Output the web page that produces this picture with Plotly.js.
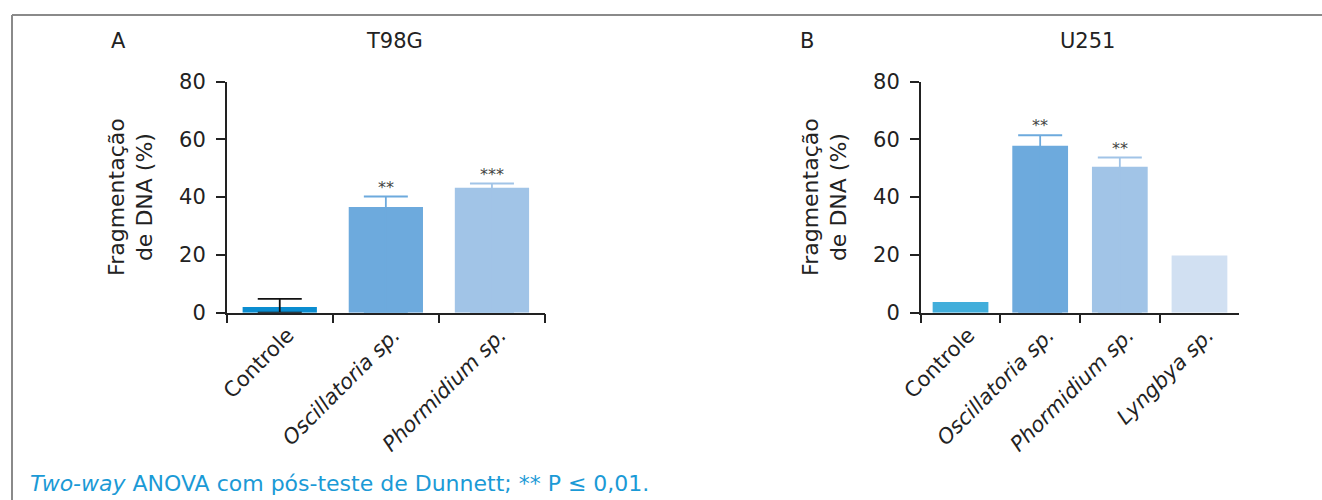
<!DOCTYPE html>
<html>
<head>
<meta charset="utf-8">
<script src="https://cdn.plot.ly/plotly-3.0.1.min.js"></script>
<style>html,body{margin:0;padding:0;background:#fff;}#chart{width:1322px;height:500px;}</style>
</head>
<body>
<div id="chart"></div>
<script>
// ---- data ----
const catsA = ["Controle", "<i>Oscillatoria sp.</i>", "<i>Phormidium sp.</i>"];
const meanA = [2.0, 36.6, 43.2];
const semA  = [2.8, 3.6, 1.5];
const sigA  = ["", "**", "***"];

const catsB = ["Controle", "<i>Oscillatoria sp.</i>", "<i>Phormidium sp.</i>", "<i>Lyngbya sp.</i>"];
const meanB = [3.7, 57.8, 50.5, 19.8];
const semB  = [0, 3.6, 3.2, 0];
const sigB  = ["", "**", "**", ""];

const yTicks = [0, 20, 40, 60, 80];
const titleA = "T98G";
const titleB = "U251";
const yTitle = "Fragmentação<br>de DNA (%)";
const footnote = "<i>Two-way</i> ANOVA com pós-teste de Dunnett; ** P ≤ 0,01.";

// ---- styles ----
const FONT = "DejaVu Sans";
const TXT = "#222222";
const colorsA = ["#0b8dd0", "#6daadd", "#a1c4e7"];
const errColorsA = ["#111111", "#6daadd", "#a1c4e7"];
const colorsB = ["#42aedb", "#6daadd", "#a1c4e7", "#d1e0f2"];
const errColorsB = ["#42aedb", "#6daadd", "#a1c4e7", "#d1e0f2"];
const W = 1322, H = 500;
const px = v => v / W;
const py = v => 1 - v / H;

function makeTraces(cats, means, sems, colors, errColors, xa, ya) {
  return cats.map((c, i) => ({
    type: "bar",
    x: [c],
    y: [means[i]],
    xaxis: xa, yaxis: ya,
    width: 0.7,
    marker: {color: colors[i], line: {width: 0}},
    error_y: {
      type: "data", symmetric: false,
      array: [sems[i]], arrayminus: [means[i]],
      visible: sems[i] > 0,
      color: errColors[i], thickness: 1.8, width: 22
    },
    hoverinfo: "x+y"
  }));
}

const data = [
  ...makeTraces(catsA, meanA, semA, colorsA, errColorsA, "x", "y"),
  ...makeTraces(catsB, meanB, semB, colorsB, errColorsB, "x2", "y2")
];

function starNotes(cats, means, sems, sigs, xr, yr) {
  const out = [];
  cats.forEach((c, i) => {
    if (sigs[i]) out.push({
      x: c, y: means[i] + sems[i], xref: xr, yref: yr,
      text: sigs[i], showarrow: false, yanchor: "bottom", yshift: -2,
      font: {family: FONT, size: 16, color: "#444"}
    });
  });
  return out;
}

const xBase = {
  type: "category", tickson: "boundaries", ticks: "outside", ticklen: 9,
  tickwidth: 1.5, tickcolor: TXT, showline: true, linecolor: TXT, linewidth: 1.5,
  tickangle: -45, ticklabelshift: 8, tickfont: {family: FONT, size: 21, color: TXT},
  showgrid: false, zeroline: false, fixedrange: true, automargin: false
};
const yBase = {
  range: [0, 80], tickmode: "array", tickvals: yTicks, ticks: "outside", ticklen: 9,
  tickwidth: 1.5, tickcolor: TXT, showline: true, linecolor: TXT, linewidth: 1.5,
  tickfont: {family: FONT, size: 21, color: TXT}, ticklabelstandoff: 6,
  showgrid: false, zeroline: false, fixedrange: true, automargin: false,
  domain: [py(312.7), py(81.5)],
  title: {text: yTitle, font: {family: FONT, size: 22, color: TXT}, standoff: 20}
};

const layout = {
  width: W, height: H,
  margin: {l: 0, r: 0, t: 0, b: 0},
  paper_bgcolor: "#fff", plot_bgcolor: "#fff",
  showlegend: false, barmode: "overlay",
  font: {family: FONT, color: TXT},
  xaxis: Object.assign({}, xBase, {domain: [px(226.7), px(545)], range: [-0.5, 2.5], anchor: "y"}),
  yaxis: Object.assign({}, yBase, {anchor: "x"}),
  xaxis2: Object.assign({}, xBase, {domain: [px(920.7), px(1239.3)], range: [-0.5, 3.5], anchor: "y2"}),
  yaxis2: Object.assign({}, yBase, {anchor: "x2"}),
  annotations: [
    ...starNotes(catsA, meanA, semA, sigA, "x", "y"),
    ...starNotes(catsB, meanB, semB, sigB, "x2", "y2"),
    {text: "A", x: px(118), y: py(41), xref: "paper", yref: "paper", showarrow: false,
     xanchor: "center", yanchor: "middle", font: {family: FONT, size: 21, color: TXT}},
    {text: titleA, x: px(394), y: py(41), xref: "paper", yref: "paper", showarrow: false,
     xanchor: "center", yanchor: "middle", font: {family: FONT, size: 21, color: TXT}},
    {text: "B", x: px(807), y: py(41), xref: "paper", yref: "paper", showarrow: false,
     xanchor: "center", yanchor: "middle", font: {family: FONT, size: 21, color: TXT}},
    {text: titleB, x: px(1087), y: py(41), xref: "paper", yref: "paper", showarrow: false,
     xanchor: "center", yanchor: "middle", font: {family: FONT, size: 21, color: TXT}},
    {text: footnote, x: px(28), y: py(483), xref: "paper", yref: "paper", showarrow: false,
     xanchor: "left", yanchor: "middle", font: {family: FONT, size: 22, color: "#1b9ad6"}}
  ],
  shapes: [
    {type: "line", xref: "paper", yref: "paper", x0: px(12), x1: px(12), y0: 0, y1: py(15),
     line: {color: "#8a8a8a", width: 2}},
    {type: "line", xref: "paper", yref: "paper", x0: px(12), x1: 1, y0: py(15), y1: py(15),
     line: {color: "#8a8a8a", width: 2}}
  ]
};

Plotly.newPlot("chart", data, layout, {displayModeBar: false, responsive: false});
</script>
</body>
</html>
